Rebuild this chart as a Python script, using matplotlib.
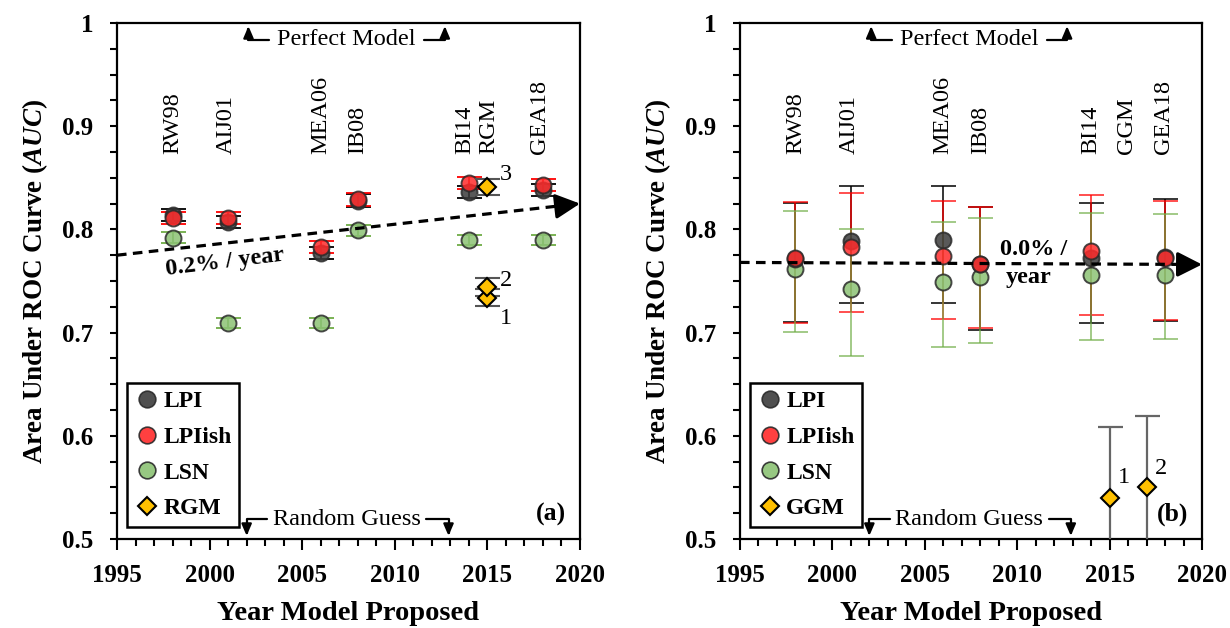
import matplotlib
matplotlib.use('Agg')
import matplotlib.pyplot as plt
from matplotlib.ticker import MultipleLocator, FixedLocator, FixedFormatter
from matplotlib.lines import Line2D
import numpy as np

plt.rcParams['font.family'] = ['Liberation Serif', 'DejaVu Serif']
plt.rcParams['mathtext.fontset'] = 'custom'
plt.rcParams['mathtext.it'] = 'Liberation Serif:italic:bold'
plt.rcParams['mathtext.rm'] = 'Liberation Serif:bold'

# ---------------- data ----------------
model_labels = ['RW98', 'AIJ01', 'MEA06', 'IB08', 'BI14', 'GEA18']
model_years = [1998, 2001, 2006, 2008, 2014, 2018]
label_x_a = [1998, 2000.9, 2006, 2008, 2013.8, 2017.8]
label_x_b = [1998, 2000.9, 2006, 2008, 2014, 2017.9]

# panel (a)
a_lpi = [0.814, 0.807, 0.777, 0.828, 0.836, 0.838]
a_lpi_err = [0.006, 0.006, 0.006, 0.006, 0.006, 0.006]
a_lpiish = [0.811, 0.811, 0.783, 0.829, 0.845, 0.843]
a_lpiish_err = [0.006, 0.006, 0.006, 0.006, 0.006, 0.006]
a_lsn = [0.792, 0.709, 0.709, 0.799, 0.790, 0.790]
a_lsn_err = [0.005, 0.005, 0.005, 0.005, 0.005, 0.005]
a_rgm_years = [2015, 2015, 2015]
a_rgm = [0.734, 0.744, 0.841]
a_rgm_err = [0.008, 0.009, 0.008]
a_rgm_ids = ['1', '2', '3']
a_trend = [0.775, 0.825]   # value at 1995 and at 2020

# panel (b)
b_lpi = [0.771, 0.789, 0.790, 0.766, 0.772, 0.773]
b_lpi_upper = [0.826, 0.842, 0.842, 0.822, 0.826, 0.829]
b_lpi_lower = [0.710, 0.729, 0.729, 0.703, 0.709, 0.711]
b_lpiish = [0.772, 0.783, 0.774, 0.766, 0.779, 0.772]
b_lpiish_upper = [0.827, 0.835, 0.828, 0.822, 0.833, 0.828]
b_lpiish_lower = [0.709, 0.720, 0.713, 0.704, 0.717, 0.712]
b_lsn = [0.762, 0.742, 0.749, 0.754, 0.756, 0.756]
b_lsn_upper = [0.818, 0.800, 0.807, 0.811, 0.816, 0.815]
b_lsn_lower = [0.701, 0.677, 0.686, 0.690, 0.693, 0.694]
b_ggm_years = [2015, 2017]
b_ggm = [0.540, 0.550]
b_ggm_err = [0.069, 0.069]
b_ggm_ids = ['1', '2']
b_trend = [0.768, 0.766]

trend_years = [1995, 2020]
y_ticks = [0.5, 0.6, 0.7, 0.8, 0.9, 1.0]
y_ticklabels = ['0.5', '0.6', '0.7', '0.8', '0.9', '1']
x_ticks = [1995, 2000, 2005, 2010, 2015, 2020]

# ---------------- styles ----------------
C_LPI = '#3c3c3c'
C_LPIISH = '#ff2b2b'
C_LSN = '#8cc275'
C_GGM = '#ffc000'
EDGE = '#2a2a2a'
ERR_LPI = '#000000'
ERR_LPIISH = '#ff0000'
ERR_LSN = '#70ad47'
TXT = 17.5

fig = plt.figure(figsize=(12.3, 6.28), dpi=100)
axb_h = 516 / 628
ax1 = fig.add_axes([117 / 1230, 1 - 539 / 628, 463 / 1230, axb_h])
ax2 = fig.add_axes([740 / 1230, 1 - 539 / 628, 462 / 1230, axb_h])

MS = 11.5
SMALL_ARROW = dict(arrowstyle='-|>,head_length=0.7,head_width=0.3', color='k', lw=1.6,
                   connectionstyle='angle,angleA=0,angleB=90,rad=0',
                   shrinkA=0, shrinkB=0, mutation_scale=10)


def setup_axes(ax):
    ax.set_xlim(1995, 2020)
    ax.set_ylim(0.5, 1.0)
    ax.yaxis.set_major_locator(FixedLocator(y_ticks))
    ax.yaxis.set_major_formatter(FixedFormatter(y_ticklabels))
    ax.yaxis.set_minor_locator(MultipleLocator(0.025))
    ax.xaxis.set_major_locator(FixedLocator(x_ticks))
    ax.xaxis.set_minor_locator(MultipleLocator(1))
    for s in ax.spines.values():
        s.set_linewidth(1.6)
    ax.tick_params(axis='y', which='both', direction='out', length=5, width=1.5,
                   labelsize=18, pad=12)
    ax.tick_params(axis='x', which='major', direction='out', length=8, width=1.5,
                   labelsize=18, pad=10)
    ax.tick_params(axis='x', which='minor', direction='out', length=5, width=1.5)
    for lab in ax.get_xticklabels() + ax.get_yticklabels():
        lab.set_fontweight('bold')
    ax.set_xlabel('Year Model Proposed', fontsize=20.5, fontweight='bold', labelpad=10)
    ax.set_ylabel(r'Area Under ROC Curve ($AUC$)', fontsize=19.5, fontweight='bold', labelpad=9)

    # Perfect model / random guess annotations
    ax.text(2007.4, 0.984, 'Perfect Model', ha='center', va='center', fontsize=TXT)
    ax.annotate('', xy=(2002.1, 0.997), xytext=(2003.2, 0.984), arrowprops=SMALL_ARROW)
    ax.annotate('', xy=(2012.7, 0.997), xytext=(2011.6, 0.984), arrowprops=SMALL_ARROW)
    ax.text(2007.4, 0.519, 'Random Guess', ha='center', va='center', fontsize=TXT)
    ax.annotate('', xy=(2002.0, 0.503), xytext=(2003.1, 0.519), arrowprops=SMALL_ARROW)
    ax.annotate('', xy=(2012.9, 0.503), xytext=(2011.7, 0.519), arrowprops=SMALL_ARROW)


def draw_trend(ax, vals):
    x_head = 2019.2
    y_head = np.interp(x_head, trend_years, vals)
    ax.plot([trend_years[0], x_head], [vals[0], y_head], color='k', lw=2.3,
            ls=(0, (3, 2)), zorder=6, clip_on=False)
    ax.annotate('', xy=(trend_years[1], vals[1]), xytext=(x_head, y_head),
                arrowprops=dict(arrowstyle='-|>,head_length=0.75,head_width=0.38', color='k',
                                lw=2.3, shrinkA=0, shrinkB=0, mutation_scale=20),
                annotation_clip=False, zorder=6)


def circles(ax, x, y, face, z):
    ax.plot(x, y, 'o', ms=MS, mfc=face, mec=EDGE, mew=1.4, alpha=0.85, ls='none', zorder=z)


# ---------------- panel (a) ----------------
setup_axes(ax1)
for lab, lx in zip(model_labels[:5], label_x_a[:5]):
    ax1.text(lx, 0.873, lab, rotation=90, ha='center', va='bottom', fontsize=TXT)
ax1.text(2015.1, 0.873, 'RGM', rotation=90, ha='center', va='bottom', fontsize=TXT)
ax1.text(label_x_a[5], 0.873, model_labels[5], rotation=90, ha='center', va='bottom', fontsize=TXT)

draw_trend(ax1, a_trend)
ax1.text(2000.8, 0.768, '0.2% / year', rotation=7, ha='center', va='center',
         fontsize=TXT, fontweight='bold', rotation_mode='anchor')

ax1.errorbar(model_years, a_lsn, yerr=a_lsn_err, fmt='none', ecolor=ERR_LSN, elinewidth=1.3,
             capsize=9, capthick=1.3, zorder=3)
ax1.errorbar(model_years, a_lpi, yerr=a_lpi_err, fmt='none', ecolor=ERR_LPI, elinewidth=1.3,
             capsize=9, capthick=1.3, zorder=3)
ax1.errorbar(model_years, a_lpiish, yerr=a_lpiish_err, fmt='none', ecolor=ERR_LPIISH, elinewidth=1.3,
             capsize=9, capthick=1.3, zorder=3)
circles(ax1, model_years, a_lsn, C_LSN, 4)
circles(ax1, model_years, a_lpi, C_LPI, 4)
circles(ax1, model_years, a_lpiish, C_LPIISH, 5)
ax1.errorbar(a_rgm_years, a_rgm, yerr=a_rgm_err, fmt='none', ecolor='#555555', elinewidth=1.5,
             capsize=9, capthick=1.5, zorder=6)
ax1.plot(a_rgm_years, a_rgm, 'D', ms=9, mfc=C_GGM, mec='k', mew=1.5, ls='none', zorder=7)
ax1.text(2015.65, 0.853, a_rgm_ids[2], fontsize=TXT, ha='left', va='center')
ax1.text(2015.65, 0.750, a_rgm_ids[1], fontsize=TXT, ha='left', va='center')
ax1.text(2015.65, 0.714, a_rgm_ids[0], fontsize=TXT, ha='left', va='center')
ax1.text(2019.25, 0.524, '(a)', fontsize=18.5, fontweight='bold', ha='right', va='center')

# ---------------- panel (b) ----------------
setup_axes(ax2)
for lab, lx in zip(model_labels, label_x_b):
    ax2.text(lx, 0.873, lab, rotation=90, ha='center', va='bottom', fontsize=TXT)
ax2.text(2015.9, 0.873, 'GGM', rotation=90, ha='center', va='bottom', fontsize=TXT)

draw_trend(ax2, b_trend)
ax2.text(2010.9, 0.781, '0.0% /', ha='center', va='center', fontsize=TXT, fontweight='bold', zorder=8)
ax2.text(2010.6, 0.753, 'year', ha='center', va='center', fontsize=TXT, fontweight='bold', zorder=8)


def asym(vals, lo, hi):
    v = np.array(vals)
    return [v - np.array(lo), np.array(hi) - v]


ax2.errorbar(model_years, b_lpi, yerr=asym(b_lpi, b_lpi_lower, b_lpi_upper), fmt='none',
             ecolor=ERR_LPI, elinewidth=1.3, capsize=9, capthick=1.3, alpha=0.85, zorder=3)
ax2.errorbar(model_years, b_lpiish, yerr=asym(b_lpiish, b_lpiish_lower, b_lpiish_upper), fmt='none',
             ecolor=ERR_LPIISH, elinewidth=1.3, capsize=9, capthick=1.3, alpha=0.75, zorder=3)
ax2.errorbar(model_years, b_lsn, yerr=asym(b_lsn, b_lsn_lower, b_lsn_upper), fmt='none',
             ecolor=ERR_LSN, elinewidth=1.3, capsize=9, capthick=1.3, alpha=0.7, zorder=3)
circles(ax2, model_years, b_lsn, C_LSN, 4)
circles(ax2, model_years, b_lpi, C_LPI, 4)
circles(ax2, model_years, b_lpiish, C_LPIISH, 5)
ax2.errorbar(b_ggm_years, b_ggm, yerr=b_ggm_err, fmt='none', ecolor='#666666', elinewidth=1.6,
             capsize=9, capthick=1.6, zorder=6)
ax2.plot(b_ggm_years, b_ggm, 'D', ms=9, mfc=C_GGM, mec='k', mew=1.5, ls='none', zorder=7)
ax2.text(2015.45, 0.560, b_ggm_ids[0], fontsize=TXT, ha='left', va='center')
ax2.text(2017.45, 0.568, b_ggm_ids[1], fontsize=TXT, ha='left', va='center')
ax2.text(2019.25, 0.524, '(b)', fontsize=18.5, fontweight='bold', ha='right', va='center')


def legend(ax, last):
    handles = [
        Line2D([], [], marker='o', ls='none', ms=12, mfc=C_LPI, mec=EDGE, mew=1.2, alpha=0.9),
        Line2D([], [], marker='o', ls='none', ms=12, mfc=C_LPIISH, mec=EDGE, mew=1.2, alpha=0.9),
        Line2D([], [], marker='o', ls='none', ms=12, mfc=C_LSN, mec=EDGE, mew=1.2, alpha=0.9),
        Line2D([], [], marker='D', ls='none', ms=9, mfc=C_GGM, mec='k', mew=1.5),
    ]
    labels = ['LPI', 'LPIish', 'LSN', last]
    leg = ax.legend(handles, labels, loc='lower left', bbox_to_anchor=(0.022, 0.023),
                    borderaxespad=0, frameon=True, fancybox=False, edgecolor='k',
                    prop={'weight': 'bold', 'size': 17}, handlelength=1.05, handletextpad=0.15,
                    labelspacing=0.6, borderpad=0.33)
    leg.get_frame().set_linewidth(1.8)
    leg.get_frame().set_alpha(1)
    leg.set_zorder(10)


legend(ax1, 'RGM')
legend(ax2, 'GGM')

fig.savefig('out.png', dpi=100)
